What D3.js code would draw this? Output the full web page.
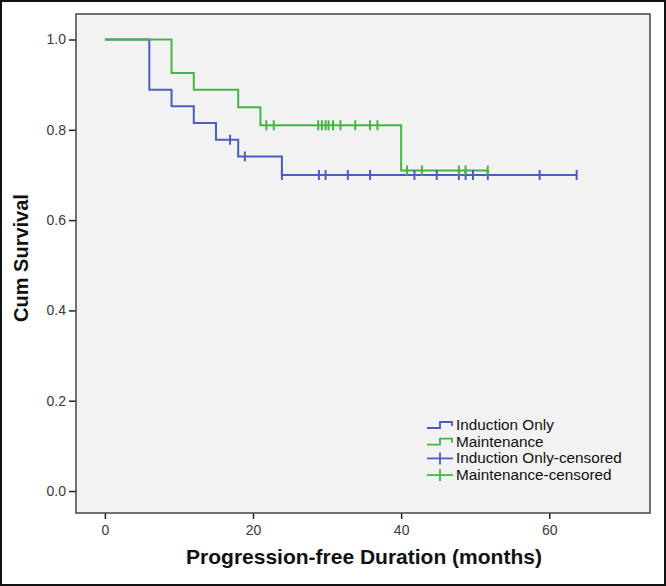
<!DOCTYPE html>
<html><head><meta charset="utf-8">
<script src="https://cdn.jsdelivr.net/npm/d3@7"></script>
<style>html,body{margin:0;padding:0;background:#fff;}svg{display:block;}</style>
</head><body>
<svg id="chart" width="666" height="586"></svg>
<script>
// Data
const xTicks = [0, 20, 40, 60];
const yTicks = [0.0, 0.2, 0.4, 0.6, 0.8, 1.0];
const inductionTimes = [0, 6, 9, 12, 15, 18, 23.9, 63.7];
const inductionSurv  = [1.0, 0.889, 0.852, 0.815, 0.778, 0.741, 0.70, 0.70];
const inductionCensored = [16.9, 18.9, 23.9, 28.9, 29.8, 32.8, 35.8, 41.8, 44.8, 47.8, 48.7, 49.7, 51.7, 58.7, 63.7];
const maintTimes = [0, 9, 12, 18, 21, 40, 51.7];
const maintSurv  = [1.0, 0.926, 0.889, 0.850, 0.81, 0.71, 0.71];
const maintCensored = [21.8, 22.8, 28.8, 29.3, 29.8, 30.2, 30.8, 31.8, 33.8, 35.8, 36.8, 40.8, 42.8, 47.8, 48.7, 51.7];
const legendLabels = ["Induction Only", "Maintenance", "Induction Only-censored", "Maintenance-censored"];
const xTitle = "Progression-free Duration (months)";
const yTitle = "Cum Survival";

const BLUE = "#4a5ec0", GREEN = "#44b544";
const svg = d3.select("#chart");
const P = {l: 76, r: 650, t: 14, b: 513};
const x = d3.scaleLinear().domain([-3.9, 73.6]).range([P.l, P.r]);
const y = d3.scaleLinear().domain([-0.0487, 1.0565]).range([P.b, P.t]);

// outer frame
svg.append("rect").attr("x", 1).attr("y", 1).attr("width", 664).attr("height", 584)
  .attr("fill", "#fff").attr("stroke", "#111").attr("stroke-width", 2);

// plot area
svg.append("rect").attr("x", P.l).attr("y", P.t).attr("width", P.r - P.l).attr("height", P.b - P.t)
  .attr("fill", "#f2f2f2");

const font = "Liberation Sans, Arial, sans-serif";
// axes
const xAxis = svg.append("g").attr("transform", `translate(0,${P.b})`)
  .call(d3.axisBottom(x).tickValues(xTicks).tickFormat(d3.format("d")).tickSize(6).tickPadding(6));
const yAxis = svg.append("g").attr("transform", `translate(${P.l},0)`)
  .call(d3.axisLeft(y).tickValues(yTicks).tickFormat(d3.format(".1f")).tickSize(7).tickPadding(3));
[xAxis, yAxis].forEach(g => {
  g.select(".domain").remove();
  g.selectAll("line").attr("stroke", "#222").attr("stroke-width", 1.5);
  g.selectAll("text").attr("fill", "#3a3a3a").style("font-family", font).style("font-size", "14px");
});

// curves
const line = d3.line().x(d => x(d[0])).y(d => y(d[1])).curve(d3.curveStepAfter);
function curve(times, surv, color) {
  svg.append("path").datum(times.map((t, i) => [t, surv[i]]))
    .attr("d", line).attr("fill", "none").attr("stroke", color).attr("stroke-width", 2);
}
function survAt(times, surv, t) {
  let s = surv[0];
  for (let i = 0; i < times.length; i++) if (times[i] <= t) s = surv[i];
  return s;
}
function censors(times, surv, cs, color) {
  svg.append("g").selectAll("line").data(cs).join("line")
    .attr("x1", d => x(d)).attr("x2", d => x(d))
    .attr("y1", d => y(survAt(times, surv, d)) - 5).attr("y2", d => y(survAt(times, surv, d)) + 5)
    .attr("stroke", color).attr("stroke-width", 2);
}
curve(inductionTimes, inductionSurv, BLUE);
curve(maintTimes, maintSurv, GREEN);
censors(inductionTimes, inductionSurv, inductionCensored, BLUE);
censors(maintTimes, maintSurv, maintCensored, GREEN);

// plot border
svg.append("rect").attr("x", P.l).attr("y", P.t).attr("width", P.r - P.l).attr("height", P.b - P.t)
  .attr("fill", "none").attr("stroke", "#444").attr("stroke-width", 1.5);

// legend
const legColors = [BLUE, GREEN, BLUE, GREEN];
const lg = svg.append("g");
legendLabels.forEach((lab, i) => {
  const cy = 425 + i * 16.7;
  if (i < 2) {
    lg.append("path").attr("d", `M427,${cy + 3}H440V${cy - 3}H452V${cy + 1}`)
      .attr("fill", "none").attr("stroke", legColors[i]).attr("stroke-width", 1.8);
  } else {
    lg.append("line").attr("x1", 427).attr("x2", 453).attr("y1", cy).attr("y2", cy)
      .attr("stroke", legColors[i]).attr("stroke-width", 1.8);
    lg.append("line").attr("x1", 440).attr("x2", 440).attr("y1", cy - 6).attr("y2", cy + 6)
      .attr("stroke", legColors[i]).attr("stroke-width", 1.8);
  }
  lg.append("text").attr("x", 456).attr("y", cy + 5).text(lab)
    .style("font-family", font).style("font-size", "15.3px").attr("fill", "#111");
});

// axis titles
svg.append("text").attr("x", 364).attr("y", 564).attr("text-anchor", "middle").text(xTitle)
  .style("font-family", font).style("font-size", "21px").style("font-weight", "bold").attr("fill", "#111");
svg.append("text").attr("transform", "translate(28,258) rotate(-90)").attr("text-anchor", "middle").text(yTitle)
  .style("font-family", font).style("font-size", "20px").style("font-weight", "bold").attr("fill", "#111");
</script>
</body></html>
